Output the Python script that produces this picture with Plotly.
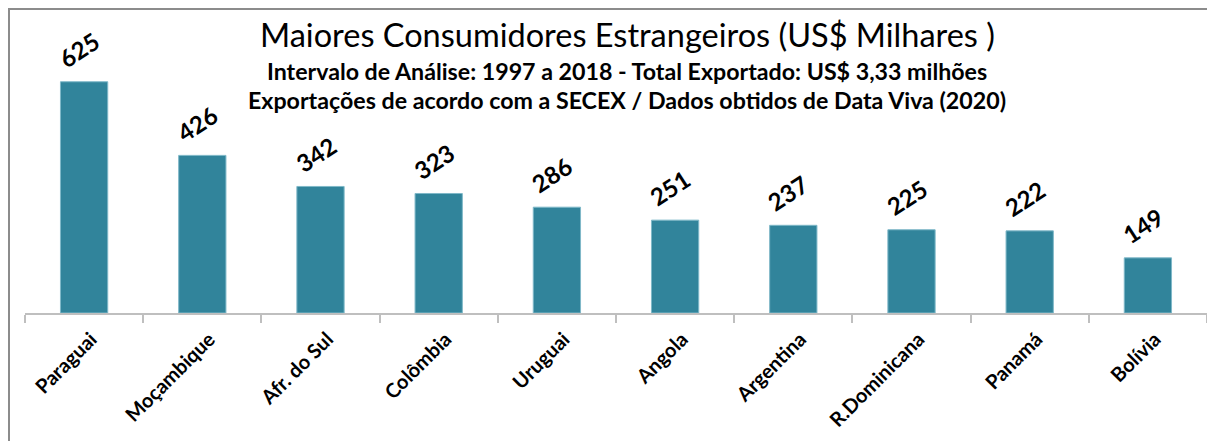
import plotly.graph_objects as go

categories = ["Paraguai", "Moçambique", "Afr. do Sul", "Colômbia", "Uruguai",
              "Angola", "Argentina", "R.Dominicana", "Panamá", "Bolívia"]
values = [625, 426, 342, 323, 286, 251, 237, 225, 222, 149]
labels = [str(v) for v in values]

title_main = "Maiores Consumidores Estrangeiros (US$ Milhares )"
subtitle_1 = "Intervalo de Análise: 1997 a 2018 - Total Exportado: US$ 3,33 milhões"
subtitle_2 = "Exportações de acordo com a SECEX / Dados obtidos de Data Viva (2020)"

FONT = "Lato"
BAR = "#31849B"

# page body has an 8px default margin -> figure origin sits at page (8, 8)
OFF = 8
W, H = 1215 - OFF, 441 - OFF
PL, PR, PT, PB = 25, 1207, 40, 313          # plot area in page pixels
ml, mr = PL - OFF, W - (PR - OFF)
mt, mb = PT - OFF, H - (PB - OFF)
plot_h = PB - PT
plot_w = PR - PL


def py(page_y):
    return (PB - page_y) / plot_h


def px(page_x):
    return (page_x - PL) / plot_w


fig = go.Figure()
fig.add_trace(go.Bar(
    x=categories, y=values,
    marker=dict(color=BAR, line=dict(color="#7FB8C8", width=1)),
    cliponaxis=False, width=0.4,
))

for c, v, t in zip(categories, values, labels):
    fig.add_annotation(x=c, y=v, text="<b>" + t + "</b>", showarrow=False,
                       textangle=-33, xanchor="center", yanchor="bottom",
                       yshift=6, xshift=-5,
                       font=dict(family=FONT, size=24, color="black"))

fig.update_layout(
    width=W, height=H,
    margin=dict(l=ml, r=mr, t=mt, b=mb, autoexpand=False),
    paper_bgcolor="white", plot_bgcolor="white",
    showlegend=False,
    font=dict(family=FONT, color="black"),
    xaxis=dict(
        automargin=False,
        showline=True, linecolor="#BFBFBF", linewidth=1.5,
        ticks="outside", tickson="boundaries", ticklen=8, tickcolor="#BFBFBF",
        tickwidth=1.5,
        tickangle=-45,
        ticklabelshift=7, ticklabelstandoff=5,
        tickfont=dict(family=FONT, size=20, color="black", weight="bold"),
        showgrid=False,
    ),
    yaxis=dict(range=[0, plot_h / 0.37], visible=False, showgrid=False,
               automargin=False),
    bargap=0.6,
)

# chart frame (left and top edges visible, others run off the page)
fig.add_shape(type="rect", xref="paper", yref="paper",
              x0=px(9), x1=px(1260), y0=py(520), y1=py(9),
              line=dict(color="#8C8C8C", width=2), layer="below")

cx = px(627)
fig.add_annotation(text=title_main, xref="paper", yref="paper",
                   x=cx, y=py(34), showarrow=False,
                   font=dict(family=FONT, size=32.5, color="black"),
                   xanchor="center", yanchor="middle")
fig.add_annotation(text="<b>" + subtitle_1 + "</b>", xref="paper", yref="paper",
                   x=cx, y=py(71), showarrow=False,
                   font=dict(family=FONT, size=23.2, color="black"),
                   xanchor="center", yanchor="middle")
fig.add_annotation(text="<b>" + subtitle_2 + "</b>", xref="paper", yref="paper",
                   x=cx, y=py(100), showarrow=False,
                   font=dict(family=FONT, size=23.2, color="black"),
                   xanchor="center", yanchor="middle")

fig.write_html("out.html")
